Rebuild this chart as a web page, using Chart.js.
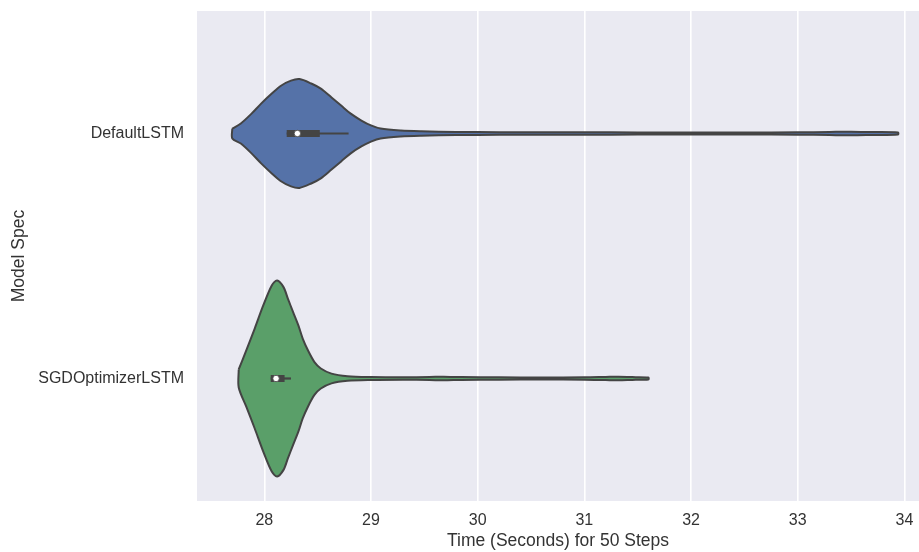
<!DOCTYPE html>
<html>
<head>
<meta charset="utf-8">
<script src="https://cdn.jsdelivr.net/npm/chart.js@4/dist/chart.umd.min.js"></script>
<style>
  html, body { margin: 0; padding: 0; background: #ffffff; }
  #wrap { width: 919px; height: 552px; position: relative; }
</style>
</head>
<body>
<div id="wrap"><canvas id="c"></canvas></div>
<script>
// ---- data ----
const categories = ['DefaultLSTM', 'SGDOptimizerLSTM'];
const xTicks = [28, 29, 30, 31, 32, 33, 34];

// violin outline: time value and half-width (in category units)
const defaultTime = [27.70, 27.78, 27.88, 27.97, 28.07, 28.16, 28.25, 28.33, 28.44, 28.53, 28.63, 28.72, 28.81, 28.91, 29.00, 29.09, 29.28, 29.47, 29.80, 30.20, 30.60, 31.00, 31.50, 32.00, 32.50, 33.00, 33.30, 33.50, 33.70, 33.94];
const defaultHalfWidth = [0.020, 0.041, 0.081, 0.122, 0.163, 0.196, 0.216, 0.222, 0.204, 0.183, 0.147, 0.114, 0.081, 0.053, 0.033, 0.020, 0.012, 0.009, 0.0065, 0.0055, 0.0050, 0.0048, 0.0045, 0.0045, 0.0045, 0.0048, 0.0065, 0.0075, 0.0060, 0.0040];

const sgdTime = [27.76, 27.83, 27.91, 27.99, 28.07, 28.12, 28.18, 28.22, 28.27, 28.32, 28.36, 28.41, 28.47, 28.53, 28.63, 28.78, 29.00, 29.30, 29.55, 29.68, 29.85, 30.20, 30.60, 31.00, 31.20, 31.32, 31.45, 31.60];
const sgdHalfWidth = [0.037, 0.114, 0.204, 0.298, 0.380, 0.400, 0.373, 0.327, 0.271, 0.216, 0.163, 0.114, 0.067, 0.041, 0.020, 0.0094, 0.006, 0.005, 0.006, 0.0075, 0.0057, 0.0048, 0.0045, 0.0048, 0.0065, 0.0075, 0.0057, 0.0040];

// inner box statistics per category
const whiskerLow  = [28.21, 28.06];
const boxQ1       = [28.21, 28.06];
const medians     = [28.31, 28.11];
const boxQ3       = [28.52, 28.19];
const whiskerHigh = [28.79, 28.25];

// ---- styling ----
const violinColors = ['#5572A8', '#5A9F69'];
const edgeGray = '#444444';
const FONT = '"Liberation Sans", Arial, Helvetica, sans-serif';

function violinPath(times, half, center) {
  const pts = [];
  for (let i = 0; i < times.length; i++) pts.push({x: times[i], y: center - half[i]});
  for (let i = times.length - 1; i >= 0; i--) pts.push({x: times[i], y: center + half[i]});
  pts.push({x: times[0], y: center - half[0]});
  return pts;
}

const violins = [[defaultTime, defaultHalfWidth], [sgdTime, sgdHalfWidth]];
const datasets = [];
violins.forEach(([t, h], i) => {
  datasets.push({
    label: categories[i],
    data: violinPath(t, h, i),
    showLine: true,
    fill: 'shape',
    backgroundColor: violinColors[i],
    borderColor: edgeGray,
    borderWidth: 2,
    pointRadius: 0,
    tension: 0.3,
    order: 3
  });
  datasets.push({
    data: [{x: whiskerLow[i], y: i}, {x: whiskerHigh[i], y: i}],
    showLine: true, borderColor: edgeGray, borderWidth: 2.2,
    pointRadius: 0, fill: false, order: 2
  });
  datasets.push({
    data: [{x: boxQ1[i], y: i}, {x: boxQ3[i], y: i}],
    showLine: true, borderColor: edgeGray, borderWidth: 7,
    borderCapStyle: 'butt', pointRadius: 0, fill: false, order: 1
  });
  datasets.push({
    data: [{x: medians[i], y: i}],
    showLine: false, pointRadius: 3.2, pointBackgroundColor: '#ffffff',
    pointBorderColor: edgeGray, pointBorderWidth: 0.8, order: 0
  });
});

const bgPlugin = {
  id: 'plotBg',
  beforeDraw(chart) {
    const {ctx, chartArea: a} = chart;
    ctx.save();
    ctx.fillStyle = '#EAEAF2';
    ctx.fillRect(a.left, a.top, a.right - a.left, a.bottom - a.top);
    ctx.restore();
  }
};

new Chart(document.getElementById('c'), {
  type: 'scatter',
  data: { datasets },
  plugins: [bgPlugin],
  options: {
    responsive: true,
    maintainAspectRatio: false,
    devicePixelRatio: 1,
    animation: false,
    layout: { autoPadding: false, padding: { top: 11, right: 0, bottom: 0, left: 0 } },
    plugins: { legend: { display: false }, tooltip: { enabled: false } },
    scales: {
      x: {
        type: 'linear',
        min: 27.369,
        max: 34.137,
        afterBuildTicks: s => { s.ticks = xTicks.map(v => ({value: v})); },
        afterFit: s => { s.height = 51; s.paddingRight = 0; s.paddingLeft = 0; },
        grid: { color: '#ffffff', lineWidth: 1.6, drawTicks: false },
        border: { display: false },
        ticks: { color: '#333333', font: { family: FONT, size: 16 }, padding: 10, autoSkip: false, maxRotation: 0 },
        title: { display: true, text: 'Time (Seconds) for 50 Steps', color: '#333333',
                 font: { family: FONT, size: 17.5 }, padding: { top: 0, bottom: 0 } }
      },
      y: {
        type: 'linear',
        min: -0.5,
        max: 1.5,
        reverse: true,
        afterBuildTicks: s => { s.ticks = categories.map((_, i) => ({value: i})); },
        afterFit: s => { s.width = 197; s.paddingTop = 0; s.paddingBottom = 0; },
        grid: { display: false, drawTicks: false },
        border: { display: false },
        ticks: { color: '#333333', font: { family: FONT, size: 16 }, padding: 13, autoSkip: false,
                 callback: v => categories[v] !== undefined ? categories[v] : '' },
        title: { display: true, text: 'Model Spec', color: '#333333',
                 font: { family: FONT, size: 17.5 }, padding: { top: 9, bottom: 0 } }
      }
    }
  }
});
</script>
</body>
</html>
